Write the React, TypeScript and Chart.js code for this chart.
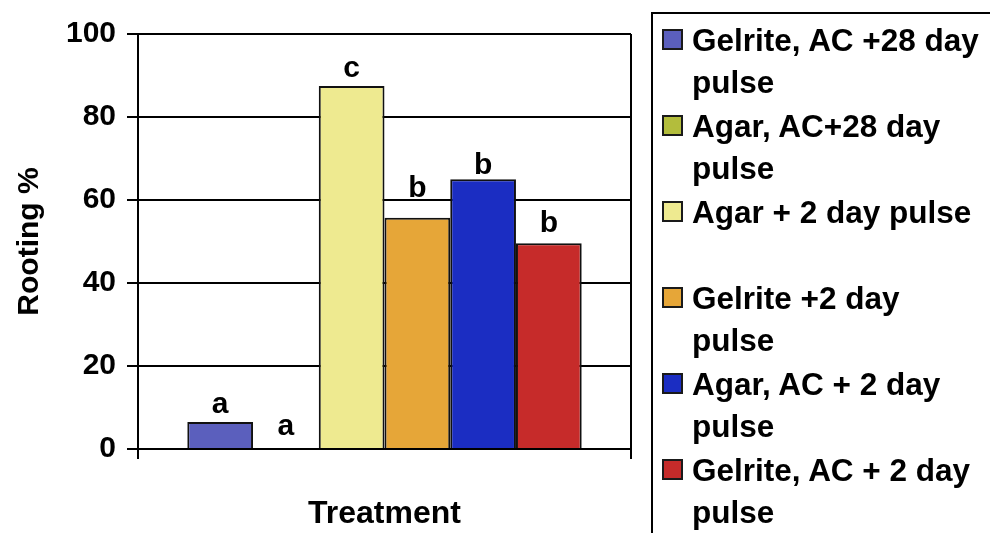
import React, { useEffect, useRef } from 'react';
import { Chart, registerables } from 'chart.js';

Chart.register(...registerables);

const FONT = '"Liberation Sans", Arial, Helvetica, sans-serif';

const categories = [''];
const seriesNames = [
  'Gelrite, AC +28 day pulse',
  'Agar, AC+28 day pulse',
  'Agar + 2 day pulse',
  'Gelrite +2 day pulse',
  'Agar, AC + 2 day pulse',
  'Gelrite, AC + 2 day pulse',
];
const legendLines = [
  ['Gelrite, AC +28 day', 'pulse'],
  ['Agar, AC+28 day', 'pulse'],
  ['Agar + 2 day pulse', '\u00a0'],
  ['Gelrite +2 day', 'pulse'],
  ['Agar, AC + 2 day', 'pulse'],
  ['Gelrite, AC + 2 day', 'pulse'],
];
const rootingValues = [6.5, 0, 87.5, 55.7, 65, 49.6];
const significanceLetters = ['a', 'a', 'c', 'b', 'b', 'b'];
const letterHeights = [8.7, 3.4, 89.6, 60.7, 66.3, 52.3];
const seriesColors = ['#5b5fbd', '#b3bd3c', '#eeea90', '#e6a638', '#1b2dc2', '#c62b2a'];
const yMin = 0;
const yMax = 100;
const yStep = 20;
const xTitle = 'Treatment';
const yTitle = 'Rooting %';

const letterPlugin = {
  id: 'sigLetters',
  afterDatasetsDraw(chart: any) {
    const ctx = chart.ctx;
    const yScale = chart.scales.y;
    ctx.save();
    ctx.fillStyle = '#000';
    ctx.font = `bold 30px ${FONT}`;
    ctx.textAlign = 'center';
    ctx.textBaseline = 'alphabetic';
    chart.data.datasets.forEach((_: any, i: number) => {
      const meta = chart.getDatasetMeta(i);
      const el = meta.data[0];
      if (!el) return;
      const x = el.x;
      const y = yScale.getPixelForValue(letterHeights[i]);
      ctx.fillText(significanceLetters[i], x, y);
    });
    ctx.restore();
  },
};

export default function App() {
  const canvasRef = useRef<HTMLCanvasElement | null>(null);

  useEffect(() => {
    if (!canvasRef.current) return;
    const chart = new Chart(canvasRef.current, {
      type: 'bar',
      data: {
        labels: categories,
        datasets: seriesNames.map((name, i) => ({
          label: name,
          data: [rootingValues[i]],
          backgroundColor: seriesColors[i],
          borderColor: '#111',
          borderWidth: 2,
          categoryPercentage: 0.8,
          barPercentage: 1.0,
        })),
      },
      options: {
        responsive: false,
        animation: false,
        layout: { padding: { top: 34, right: 359, left: 0, bottom: 0 } },
        plugins: {
          legend: { display: false },
          tooltip: { enabled: false },
        },
        scales: {
          x: {
            type: 'category',
            offset: true,
            grid: {
              display: true,
              offset: true,
              color: '#000',
              lineWidth: 2,
              tickLength: 10,
              drawOnChartArea: true,
              drawTicks: true,
            },
            border: { display: true, color: '#000', width: 2 },
            ticks: { display: false },
            title: {
              display: true,
              text: xTitle,
              color: '#000',
              font: { family: FONT, size: 32, weight: 'bold' },
              padding: 0,
            },
            afterFit: (s: any) => {
              s.height = 84;
            },
          },
          y: {
            min: yMin,
            max: yMax,
            ticks: {
              stepSize: yStep,
              color: '#000',
              padding: 11,
              font: { family: FONT, size: 30, weight: 'bold' },
            },
            grid: {
              color: '#000',
              lineWidth: 2,
              tickLength: 11,
              drawTicks: true,
            },
            border: { display: true, color: '#000', width: 2 },
            title: {
              display: true,
              text: yTitle,
              color: '#000',
              font: { family: FONT, size: 30, weight: 'bold' },
              padding: { top: 12, bottom: 0 },
            },
            afterFit: (s: any) => {
              s.width = 138;
            },
          },
        },
      } as any,
      plugins: [letterPlugin],
    });
    return () => chart.destroy();
  }, []);

  return (
    <div
      style={{
        position: 'fixed',
        left: 0,
        top: 0,
        width: 990,
        height: 533,
        background: '#fff',
        overflow: 'hidden',
      }}
    >
      <canvas
        ref={canvasRef}
        width={990}
        height={533}
        style={{ position: 'absolute', left: 0, top: 0, width: 990, height: 533 }}
      />
      <div
        style={{
          position: 'absolute',
          left: 651,
          top: 12,
          width: 360,
          height: 540,
          borderLeft: '2px solid #000',
          borderTop: '2px solid #000',
          boxSizing: 'border-box',
          paddingTop: 5,
          fontFamily: FONT,
          fontWeight: 'bold',
          fontSize: 31.5,
          lineHeight: '42px',
          color: '#000',
        }}
      >
        {legendLines.map((lines, i) => (
          <div
            key={i}
            style={{ position: 'relative', paddingLeft: 39, marginBottom: 2, whiteSpace: 'nowrap' }}
          >
            <span
              style={{
                position: 'absolute',
                left: 9,
                top: 10,
                width: 21,
                height: 21,
                boxSizing: 'border-box',
                border: '2px solid #1a1a1a',
                background: seriesColors[i],
              }}
            />
            {lines.map((l, j) => (
              <div key={j}>{l}</div>
            ))}
          </div>
        ))}
      </div>
    </div>
  );
}
